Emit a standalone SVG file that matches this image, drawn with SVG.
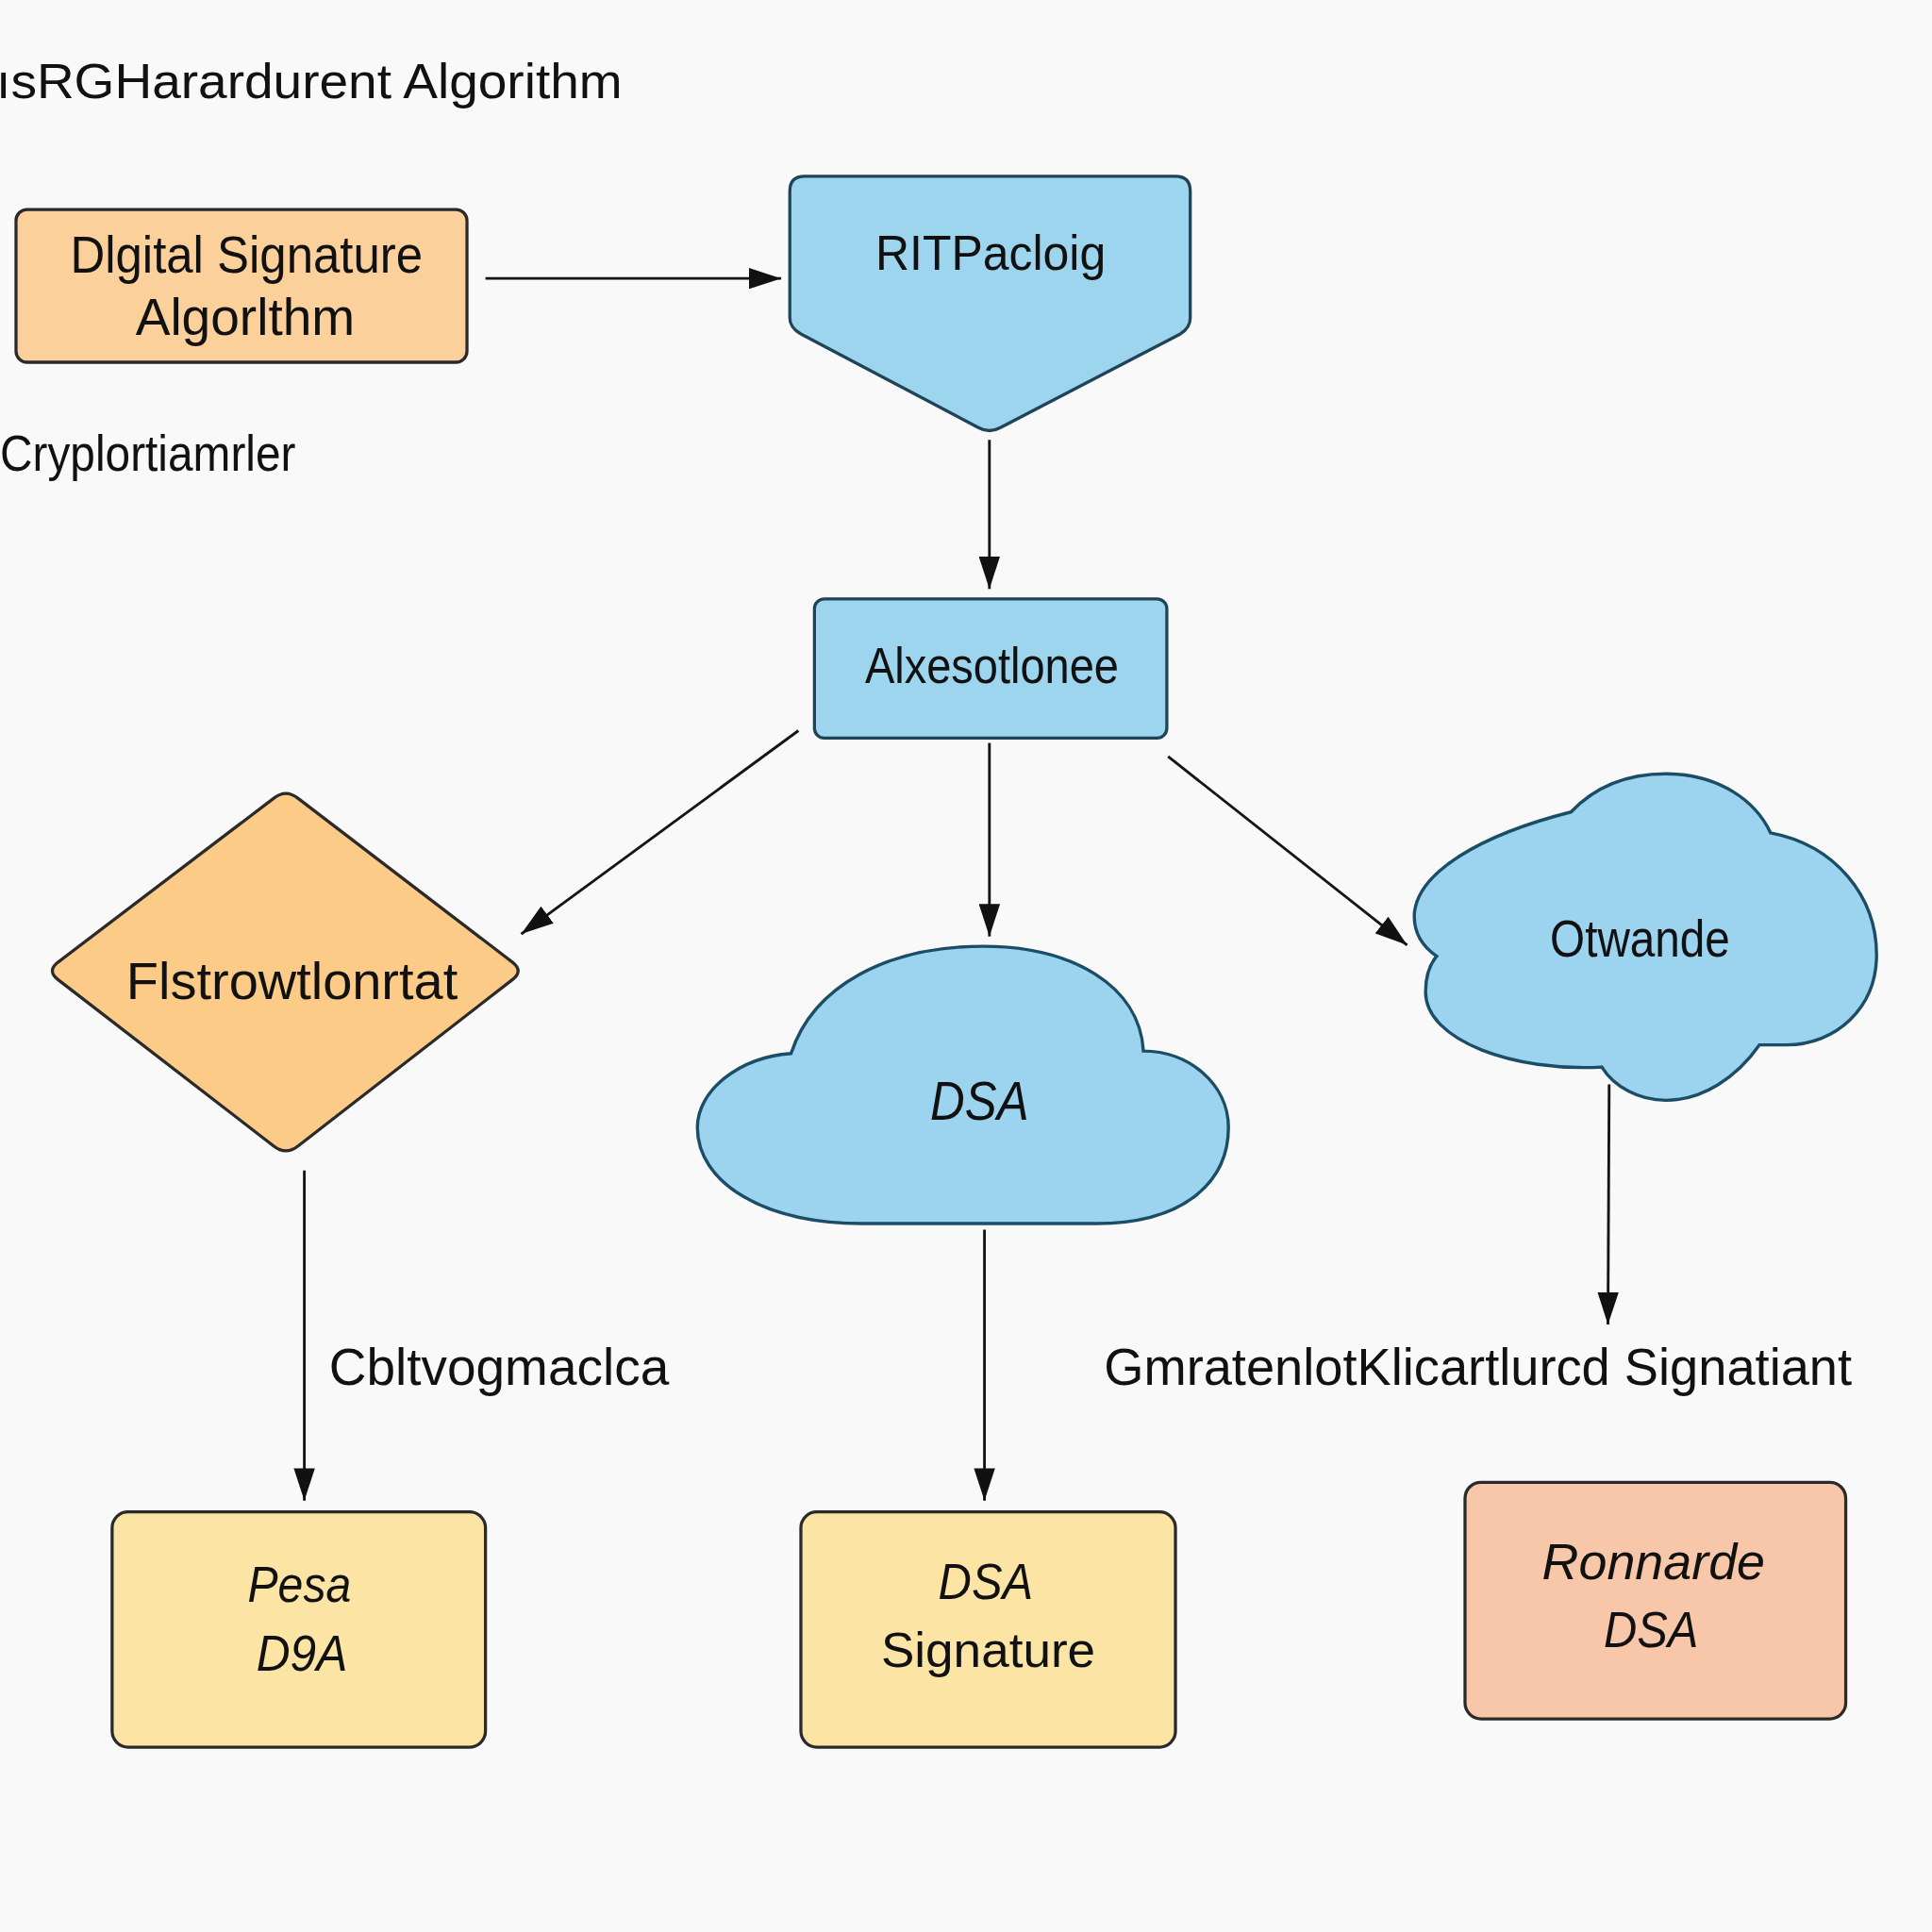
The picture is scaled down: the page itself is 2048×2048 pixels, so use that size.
<svg xmlns="http://www.w3.org/2000/svg" width="2048" height="2048" viewBox="0 0 2048 2048">
<style>
  .t { font-family: "Liberation Sans", Arial, sans-serif; fill: #111; }
  .c { text-anchor: middle; }
  .i { font-style: italic; }
  .box { stroke: #2a2a2a; stroke-width: 2.5; }
  .blue { fill: #9dd4ee; stroke: #1f4458; stroke-width: 2.5; }
  .cloud { fill: #9cd3ee; stroke: #1b4d66; stroke-width: 2.6; }
  .edge { stroke: #151515; stroke-width: 2.2; fill: none; marker-end: url(#ah); }
</style>
<defs>
  <marker id="ah" viewBox="0 0 13 8.5" refX="13" refY="4.25" markerWidth="12" markerHeight="7.8" markerUnits="strokeWidth" orient="auto">
    <path d="M0,0 L13,4.25 L0,8.5 Z" fill="#111"/>
  </marker>
</defs>
<rect width="2048" height="2048" fill="#f9f9f9"/>
<g transform="scale(1.30612)">
  <g id="title">
    <text class="t" x="-3" y="80" font-size="40" textLength="508" lengthAdjust="spacingAndGlyphs">ısRGHarardurent Algorithm</text>
  </g>
  <g id="label-cryp">
    <text class="t" x="0" y="382" font-size="41" textLength="240" lengthAdjust="spacingAndGlyphs">Cryplortiamrler</text>
  </g>
  <g id="n-dsa-box">
    <rect class="box" x="13" y="170" width="366" height="124" rx="9" fill="#fbd09a"/>
    <text class="t c" x="200" y="221" font-size="42" textLength="286" lengthAdjust="spacingAndGlyphs">Dlgital Signature</text>
    <text class="t c" x="199" y="272" font-size="42" textLength="178" lengthAdjust="spacingAndGlyphs">Algorlthm</text>
  </g>
  <g id="n-pent">
    <path class="blue" d="M641,155 Q641,143 653,143 L954,143 Q966,143 966,155 L966,258 Q966,266 958,271 L812,347 Q803,352 794,347 L650,271 Q641,266 641,258 Z"/>
    <text class="t c" x="804" y="219" font-size="40" textLength="187" lengthAdjust="spacingAndGlyphs">RITPacloig</text>
  </g>
  <g id="n-rect">
    <rect class="blue" x="661" y="486" width="286" height="113" rx="8"/>
    <text class="t c" x="805" y="554" font-size="41" textLength="206" lengthAdjust="spacingAndGlyphs">Alxesotlonee</text>
  </g>
  <g id="n-diamond">
    <path class="box" fill="#fccb87" d="M47,781 L222,648 Q232,640 242,648 L416,781 Q425,788 416,795 L242,930 Q232,938 222,930 L47,795 Q38,788 47,781 Z"/>
    <text class="t c" x="237" y="811" font-size="42" textLength="269" lengthAdjust="spacingAndGlyphs">Flstrowtlonrtat</text>
  </g>
  <g id="n-cloud-dsa">
    <path class="cloud" d="M700,993 L890,993 C960,993 997,960 997,915 C997,880 965,853 928,853 C925,800 870,768 798,768 C720,768 660,800 642,855 C600,858 566,885 566,915 C566,960 620,993 700,993 Z"/>
    <text class="t c i" x="795" y="909" font-size="44" textLength="80" lengthAdjust="spacingAndGlyphs">DSA</text>
  </g>
  <g id="n-cloud-right">
    <path class="cloud" d="M1275,659 C1295,638 1322,628 1352,628 C1395,628 1425,650 1437,676 C1490,686 1523,728 1523,775 C1523,818 1490,848 1450,848 L1428,848 C1410,874 1382,893 1352,893 C1330,893 1310,882 1300,866 C1230,870 1157,845 1157,805 C1157,792 1160,783 1166,776 C1150,765 1147,752 1148,740 C1152,708 1200,678 1275,659 Z"/>
    <text class="t c" x="1331" y="776" font-size="42" textLength="146" lengthAdjust="spacingAndGlyphs">Otwande</text>
  </g>
  <g id="label-cbl">
    <text class="t" x="267" y="1124" font-size="42" textLength="276" lengthAdjust="spacingAndGlyphs">Cbltvogmaclca</text>
  </g>
  <g id="label-gmr">
    <text class="t" x="896" y="1124" font-size="42" textLength="607" lengthAdjust="spacingAndGlyphs">GmratenlotKlicartlurcd Signatiant</text>
  </g>
  <g id="n-pesa">
    <rect class="box" x="91" y="1227" width="303" height="191" rx="13" fill="#fbe4a4"/>
    <text class="t c i" x="243" y="1300" font-size="41" textLength="84" lengthAdjust="spacingAndGlyphs">Pesa</text>
    <text class="t c i" x="245" y="1356" font-size="41" textLength="74" lengthAdjust="spacingAndGlyphs">D9A</text>
  </g>
  <g id="n-dsa-sig">
    <rect class="box" x="650" y="1227" width="304" height="191" rx="13" fill="#fbe4a4"/>
    <text class="t c i" x="800" y="1298" font-size="41" textLength="77" lengthAdjust="spacingAndGlyphs">DSA</text>
    <text class="t c" x="802" y="1353" font-size="40" textLength="174" lengthAdjust="spacingAndGlyphs">Signature</text>
  </g>
  <g id="n-ronn">
    <rect class="box" x="1189" y="1203" width="309" height="192" rx="13" fill="#f8c7a9"/>
    <text class="t c i" x="1342" y="1282" font-size="41" textLength="181" lengthAdjust="spacingAndGlyphs">Ronnarde</text>
    <text class="t c i" x="1340" y="1337" font-size="41" textLength="77" lengthAdjust="spacingAndGlyphs">DSA</text>
  </g>
  <g id="connectors">
    <line class="edge" x1="394" y1="226" x2="634" y2="226"/>
    <line class="edge" x1="803" y1="357" x2="803" y2="478"/>
    <line class="edge" x1="648" y1="593" x2="423" y2="758"/>
    <line class="edge" x1="803" y1="603" x2="803" y2="760"/>
    <line class="edge" x1="948" y1="614" x2="1142" y2="767"/>
    <line class="edge" x1="247" y1="950" x2="247" y2="1218"/>
    <line class="edge" x1="799" y1="998" x2="799" y2="1218"/>
    <line class="edge" x1="1306" y1="880" x2="1305" y2="1075"/>
  </g>
</g>
</svg>
